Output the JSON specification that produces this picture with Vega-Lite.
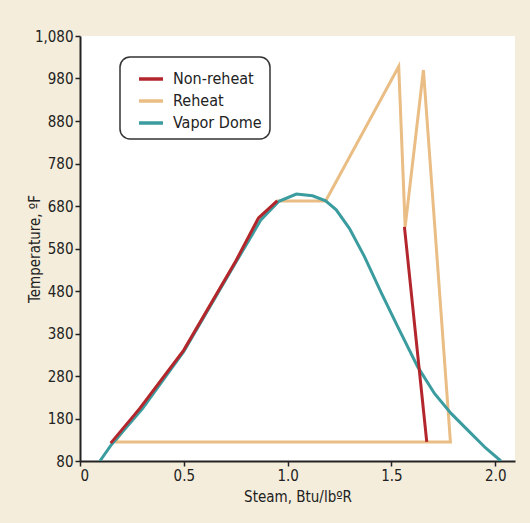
{
  "$schema": "https://vega.github.io/schema/vega-lite/v6.json",
  "autosize": {"type": "none"},
  "width": 435,
  "height": 425,
  "padding": {"left": 80, "top": 36, "right": 15, "bottom": 62},
  "background": "#f4eddb",
  "config": {
    "view": {"stroke": null, "fill": "#ffffff"},
    "font": "DejaVu Sans Condensed, Liberation Sans, sans-serif",
    "axis": {
      "grid": false,
      "domainColor": "#222222",
      "domainWidth": 2,
      "tickColor": "#222222",
      "tickWidth": 1.5,
      "tickSize": 5,
      "labelFont": "DejaVu Sans Condensed, Liberation Sans, sans-serif",
      "labelFontSize": 15,
      "labelColor": "#222222",
      "titleFont": "DejaVu Sans Condensed, Liberation Sans, sans-serif",
      "titleFontSize": 15,
      "titleFontWeight": "normal",
      "titleColor": "#222222"
    }
  },
  "datasets": {
    "pts": [
      {"series": "Reheat", "seg": "r", "i": 1, "s": 0.168, "t": 125},
      {"series": "Reheat", "seg": "r", "i": 2, "s": 0.29, "t": 205},
      {"series": "Reheat", "seg": "r", "i": 3, "s": 0.5, "t": 341},
      {"series": "Reheat", "seg": "r", "i": 4, "s": 0.75, "t": 550},
      {"series": "Reheat", "seg": "r", "i": 5, "s": 0.86, "t": 652},
      {"series": "Reheat", "seg": "r", "i": 6, "s": 0.95, "t": 692},
      {"series": "Reheat", "seg": "r", "i": 7, "s": 1.183, "t": 692},
      {"series": "Reheat", "seg": "r", "i": 8, "s": 1.535, "t": 1008},
      {"series": "Reheat", "seg": "r", "i": 9, "s": 1.566, "t": 631},
      {"series": "Reheat", "seg": "r", "i": 10, "s": 1.654, "t": 1000},
      {"series": "Reheat", "seg": "r", "i": 11, "s": 1.784, "t": 125},
      {"series": "Reheat", "seg": "r", "i": 12, "s": 0.168, "t": 125},

      {"series": "Vapor Dome", "seg": "v", "i": 1, "s": 0.096, "t": 80},
      {"series": "Vapor Dome", "seg": "v", "i": 2, "s": 0.152, "t": 119},
      {"series": "Vapor Dome", "seg": "v", "i": 3, "s": 0.30, "t": 203},
      {"series": "Vapor Dome", "seg": "v", "i": 4, "s": 0.5, "t": 338},
      {"series": "Vapor Dome", "seg": "v", "i": 5, "s": 0.75, "t": 547},
      {"series": "Vapor Dome", "seg": "v", "i": 6, "s": 0.872, "t": 648},
      {"series": "Vapor Dome", "seg": "v", "i": 7, "s": 0.958, "t": 691},
      {"series": "Vapor Dome", "seg": "v", "i": 8, "s": 1.042, "t": 708},
      {"series": "Vapor Dome", "seg": "v", "i": 9, "s": 1.12, "t": 704},
      {"series": "Vapor Dome", "seg": "v", "i": 10, "s": 1.183, "t": 692},
      {"series": "Vapor Dome", "seg": "v", "i": 11, "s": 1.234, "t": 671},
      {"series": "Vapor Dome", "seg": "v", "i": 12, "s": 1.298, "t": 627},
      {"series": "Vapor Dome", "seg": "v", "i": 13, "s": 1.37, "t": 561},
      {"series": "Vapor Dome", "seg": "v", "i": 14, "s": 1.45, "t": 477},
      {"series": "Vapor Dome", "seg": "v", "i": 15, "s": 1.53, "t": 396},
      {"series": "Vapor Dome", "seg": "v", "i": 16, "s": 1.626, "t": 302},
      {"series": "Vapor Dome", "seg": "v", "i": 17, "s": 1.707, "t": 239},
      {"series": "Vapor Dome", "seg": "v", "i": 18, "s": 1.787, "t": 192},
      {"series": "Vapor Dome", "seg": "v", "i": 19, "s": 1.883, "t": 145},
      {"series": "Vapor Dome", "seg": "v", "i": 20, "s": 1.955, "t": 110},
      {"series": "Vapor Dome", "seg": "v", "i": 21, "s": 2.027, "t": 80},

      {"series": "Non-reheat", "seg": "n1", "i": 1, "s": 0.148, "t": 122},
      {"series": "Non-reheat", "seg": "n1", "i": 2, "s": 0.29, "t": 205},
      {"series": "Non-reheat", "seg": "n1", "i": 3, "s": 0.5, "t": 341},
      {"series": "Non-reheat", "seg": "n1", "i": 4, "s": 0.75, "t": 550},
      {"series": "Non-reheat", "seg": "n1", "i": 5, "s": 0.86, "t": 652},
      {"series": "Non-reheat", "seg": "n1", "i": 6, "s": 0.95, "t": 692},
      {"series": "Non-reheat", "seg": "n2", "i": 1, "s": 1.5625, "t": 631},
      {"series": "Non-reheat", "seg": "n2", "i": 2, "s": 1.67, "t": 125}
    ]
  },
  "data": {"name": "pts"},
  "encoding": {
    "x": {
      "field": "s", "type": "quantitative",
      "scale": {"domain": [0, 2.095], "nice": false, "zero": false},
      "axis": {
        "title": "Steam, Btu/lbºR",
        "values": [0, 0.5, 1, 1.5, 2],
        "labelExpr": "datum.value == 0 ? '0' : format(datum.value, '.1f')",
        "labelPadding": 2,
        "titlePadding": 6
      }
    },
    "y": {
      "field": "t", "type": "quantitative",
      "scale": {"domain": [80, 1080], "nice": false, "zero": false},
      "axis": {
        "title": "Temperature, ºF",
        "values": [80, 180, 280, 380, 480, 580, 680, 780, 880, 980, 1080],
        "labelExpr": "format(datum.value, ',.0f')",
        "labelPadding": 2,
        "titleX": -46,
        "titleBaseline": "middle"
      }
    },
    "color": {
      "field": "series", "type": "nominal",
      "scale": {"domain": ["Non-reheat", "Reheat", "Vapor Dome"], "range": ["#b3262d", "#e9bd84", "#3a9c9f"]},
      "legend": {
        "title": null,
        "orient": "none",
        "legendX": 40,
        "legendY": 21,
        "symbolType": "stroke",
        "symbolStrokeWidth": 3.5,
        "symbolSize": 576,
        "symbolOffset": 9,
        "labelOffset": 8,
        "labelFontSize": 16,
        "labelColor": "#222222",
        "labelFont": "DejaVu Sans Condensed, Liberation Sans, sans-serif",
        "labelExpr": "datum.label == 'Vapor Dome' ? 'Vapor Dome\u00a0\u00a0\u00a0' : datum.label",
        "rowPadding": 0,
        "padding": 8,
        "strokeColor": "#333333",
        "cornerRadius": 10,
        "fillColor": "#ffffff",
        "encode": {"legend": {"update": {"strokeWidth": {"value": 1.5}}}}
      }
    },
    "detail": {"field": "seg"},
    "order": {"field": "i", "type": "quantitative"}
  },
  "layer": [
    {"transform": [{"filter": "datum.series == 'Reheat'"}], "mark": {"type": "line", "strokeWidth": 3, "clip": true}},
    {"transform": [{"filter": "datum.series == 'Vapor Dome'"}], "mark": {"type": "line", "strokeWidth": 3, "clip": true}},
    {"transform": [{"filter": "datum.series == 'Non-reheat'"}], "mark": {"type": "line", "strokeWidth": 3, "clip": true}}
  ]
}
